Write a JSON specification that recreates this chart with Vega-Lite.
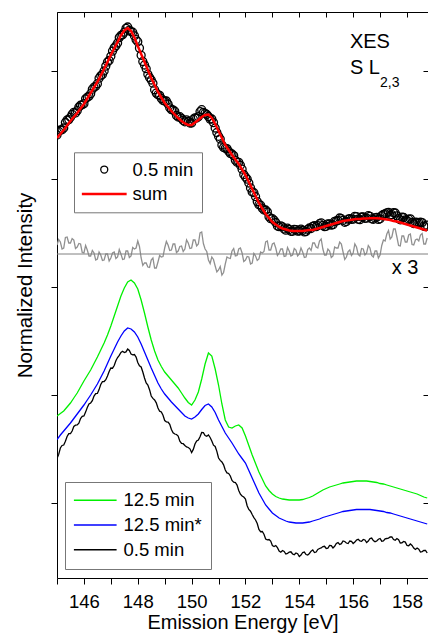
{
"$schema":"https://vega.github.io/schema/vega-lite/v6.json",
"width":371,"height":566,
"autosize":{"type":"none"},
"padding":{"left":57,"top":12,"right":0,"bottom":61},
"background":"white",
"config":{"view":{"stroke":null},"font":"Liberation Sans",
"axis":{"domainColor":"black","tickColor":"black","labelColor":"black","titleColor":"black","grid":false,"titleFontWeight":"normal","labelFont":"Liberation Sans","titleFont":"Liberation Sans"},
"legend":{"labelFont":"Liberation Sans","labelColor":"black"}},
"resolve":{"axis":{"x":"independent","y":"independent"}},
"data":{"values":[
{"x":145,"s":4.73,"d":4.76,"r":3.66,"g":1.95,"b":1.715,"k":1.525},
{"x":145.125,"s":4.77,"d":4.81,"r":3.69,"g":1.975,"b":1.76,"k":1.63},
{"x":145.25,"s":4.81,"d":4.83,"r":3.63,"g":2.0,"b":1.8,"k":1.66},
{"x":145.375,"s":4.855,"d":4.91,"r":3.74,"g":2.04,"b":1.84,"k":1.745},
{"x":145.5,"s":4.9,"d":4.937,"r":3.68,"g":2.08,"b":1.88,"k":1.775},
{"x":145.625,"s":4.94,"d":4.987,"r":3.71,"g":2.13,"b":1.925,"k":1.845},
{"x":145.75,"s":4.98,"d":5.003,"r":3.64,"g":2.18,"b":1.97,"k":1.86},
{"x":145.875,"s":5.025,"d":5.058,"r":3.67,"g":2.24,"b":2.015,"k":1.925},
{"x":146,"s":5.07,"d":5.073,"r":3.58,"g":2.3,"b":2.06,"k":1.95},
{"x":146.125,"s":5.125,"d":5.138,"r":3.61,"g":2.355,"b":2.11,"k":2.035},
{"x":146.25,"s":5.18,"d":5.173,"r":3.55,"g":2.41,"b":2.16,"k":2.08},
{"x":146.375,"s":5.235,"d":5.238,"r":3.58,"g":2.475,"b":2.215,"k":2.15},
{"x":146.5,"s":5.29,"d":5.273,"r":3.52,"g":2.54,"b":2.27,"k":2.175},
{"x":146.625,"s":5.355,"d":5.352,"r":3.56,"g":2.61,"b":2.335,"k":2.265},
{"x":146.75,"s":5.42,"d":5.4,"r":3.51,"g":2.68,"b":2.4,"k":2.295},
{"x":146.875,"s":5.49,"d":5.49,"r":3.57,"g":2.76,"b":2.475,"k":2.35},
{"x":147,"s":5.56,"d":5.547,"r":3.53,"g":2.85,"b":2.55,"k":2.43},
{"x":147.125,"s":5.625,"d":5.632,"r":3.59,"g":2.95,"b":2.62,"k":2.455},
{"x":147.25,"s":5.69,"d":5.68,"r":3.54,"g":3.05,"b":2.69,"k":2.535},
{"x":147.375,"s":5.755,"d":5.755,"r":3.57,"g":3.15,"b":2.75,"k":2.585},
{"x":147.5,"s":5.805,"d":5.788,"r":3.52,"g":3.23,"b":2.8,"k":2.585},
{"x":147.625,"s":5.83,"d":5.84,"r":3.6,"g":3.29,"b":2.83,"k":2.62},
{"x":147.75,"s":5.8,"d":5.793,"r":3.55,"g":3.31,"b":2.82,"k":2.57},
{"x":147.875,"s":5.735,"d":5.752,"r":3.62,"g":3.28,"b":2.79,"k":2.565},
{"x":148,"s":5.65,"d":5.693,"r":3.7,"g":3.22,"b":2.74,"k":2.485},
{"x":148.125,"s":5.57,"d":5.557,"r":3.53,"g":3.11,"b":2.67,"k":2.44},
{"x":148.25,"s":5.49,"d":5.46,"r":3.48,"g":2.98,"b":2.59,"k":2.33},
{"x":148.375,"s":5.41,"d":5.367,"r":3.44,"g":2.84,"b":2.51,"k":2.26},
{"x":148.5,"s":5.33,"d":5.31,"r":3.51,"g":2.71,"b":2.43,"k":2.15},
{"x":148.625,"s":5.26,"d":5.213,"r":3.43,"g":2.6,"b":2.355,"k":2.11},
{"x":148.75,"s":5.19,"d":5.163,"r":3.49,"g":2.51,"b":2.28,"k":2.03},
{"x":148.875,"s":5.135,"d":5.125,"r":3.54,"g":2.445,"b":2.22,"k":1.99},
{"x":149,"s":5.08,"d":5.1,"r":3.63,"g":2.39,"b":2.17,"k":1.905},
{"x":149.125,"s":5.04,"d":5.07,"r":3.66,"g":2.35,"b":2.13,"k":1.89},
{"x":149.25,"s":5.0,"d":5.013,"r":3.61,"g":2.31,"b":2.09,"k":1.815},
{"x":149.375,"s":4.965,"d":4.998,"r":3.67,"g":2.27,"b":2.055,"k":1.77},
{"x":149.5,"s":4.93,"d":4.94,"r":3.6,"g":2.23,"b":2.02,"k":1.75},
{"x":149.625,"s":4.9,"d":4.927,"r":3.65,"g":2.18,"b":1.985,"k":1.675},
{"x":149.75,"s":4.875,"d":4.892,"r":3.62,"g":2.13,"b":1.95,"k":1.655},
{"x":149.875,"s":4.86,"d":4.897,"r":3.68,"g":2.085,"b":1.93,"k":1.635},
{"x":150,"s":4.86,"d":4.88,"r":3.63,"g":2.06,"b":1.92,"k":1.585},
{"x":150.125,"s":4.885,"d":4.932,"r":3.71,"g":2.11,"b":1.94,"k":1.67},
{"x":150.25,"s":4.91,"d":4.943,"r":3.67,"g":2.19,"b":1.97,"k":1.71},
{"x":150.375,"s":4.94,"d":5.013,"r":3.79,"g":2.32,"b":2.015,"k":1.785},
{"x":150.5,"s":4.96,"d":4.977,"r":3.62,"g":2.47,"b":2.055,"k":1.755},
{"x":150.625,"s":4.965,"d":4.945,"r":3.51,"g":2.58,"b":2.07,"k":1.76},
{"x":150.75,"s":4.93,"d":4.92,"r":3.54,"g":2.55,"b":2.04,"k":1.7},
{"x":150.875,"s":4.87,"d":4.83,"r":3.45,"g":2.42,"b":1.985,"k":1.645},
{"x":151,"s":4.8,"d":4.747,"r":3.41,"g":2.26,"b":1.91,"k":1.53},
{"x":151.125,"s":4.73,"d":4.66,"r":3.36,"g":2.07,"b":1.845,"k":1.49},
{"x":151.25,"s":4.66,"d":4.627,"r":3.47,"g":1.91,"b":1.78,"k":1.41},
{"x":151.375,"s":4.61,"d":4.597,"r":3.53,"g":1.84,"b":1.73,"k":1.375},
{"x":151.5,"s":4.56,"d":4.57,"r":3.6,"g":1.83,"b":1.68,"k":1.305},
{"x":151.625,"s":4.515,"d":4.508,"r":3.55,"g":1.85,"b":1.625,"k":1.285},
{"x":151.75,"s":4.47,"d":4.487,"r":3.62,"g":1.86,"b":1.57,"k":1.205},
{"x":151.875,"s":4.415,"d":4.418,"r":3.58,"g":1.83,"b":1.525,"k":1.15},
{"x":152,"s":4.36,"d":4.34,"r":3.51,"g":1.75,"b":1.48,"k":1.12},
{"x":152.125,"s":4.29,"d":4.28,"r":3.54,"g":1.655,"b":1.405,"k":1.015},
{"x":152.25,"s":4.22,"d":4.19,"r":3.48,"g":1.56,"b":1.33,"k":0.965},
{"x":152.375,"s":4.15,"d":4.143,"r":3.55,"g":1.475,"b":1.255,"k":0.91},
{"x":152.5,"s":4.08,"d":4.063,"r":3.52,"g":1.39,"b":1.18,"k":0.815},
{"x":152.625,"s":4.025,"d":4.028,"r":3.58,"g":1.32,"b":1.12,"k":0.795},
{"x":152.75,"s":3.97,"d":4.01,"r":3.69,"g":1.25,"b":1.06,"k":0.72},
{"x":152.875,"s":3.93,"d":3.943,"r":3.61,"g":1.205,"b":1.02,"k":0.715},
{"x":153,"s":3.89,"d":3.923,"r":3.67,"g":1.17,"b":0.98,"k":0.655},
{"x":153.125,"s":3.865,"d":3.885,"r":3.63,"g":1.145,"b":0.955,"k":0.655},
{"x":153.25,"s":3.84,"d":3.843,"r":3.58,"g":1.13,"b":0.93,"k":0.6},
{"x":153.375,"s":3.825,"d":3.842,"r":3.62,"g":1.12,"b":0.915,"k":0.605},
{"x":153.5,"s":3.815,"d":3.808,"r":3.55,"g":1.115,"b":0.9,"k":0.57},
{"x":153.625,"s":3.805,"d":3.815,"r":3.6,"g":1.11,"b":0.89,"k":0.59},
{"x":153.75,"s":3.8,"d":3.797,"r":3.56,"g":1.11,"b":0.885,"k":0.57},
{"x":153.875,"s":3.8,"d":3.813,"r":3.61,"g":1.11,"b":0.88,"k":0.58},
{"x":154,"s":3.8,"d":3.8,"r":3.57,"g":1.11,"b":0.88,"k":0.545},
{"x":154.125,"s":3.8,"d":3.807,"r":3.59,"g":1.115,"b":0.88,"k":0.585},
{"x":154.25,"s":3.805,"d":3.795,"r":3.54,"g":1.125,"b":0.885,"k":0.565},
{"x":154.375,"s":3.81,"d":3.83,"r":3.63,"g":1.135,"b":0.89,"k":0.575},
{"x":154.5,"s":3.81,"d":3.847,"r":3.68,"g":1.15,"b":0.9,"k":0.61},
{"x":154.625,"s":3.82,"d":3.843,"r":3.64,"g":1.17,"b":0.91,"k":0.59},
{"x":154.75,"s":3.83,"d":3.873,"r":3.7,"g":1.19,"b":0.92,"k":0.625},
{"x":154.875,"s":3.84,"d":3.857,"r":3.62,"g":1.21,"b":0.935,"k":0.645},
{"x":155,"s":3.85,"d":3.847,"r":3.56,"g":1.225,"b":0.945,"k":0.625},
{"x":155.125,"s":3.86,"d":3.87,"r":3.6,"g":1.24,"b":0.955,"k":0.655},
{"x":155.25,"s":3.87,"d":3.863,"r":3.55,"g":1.25,"b":0.965,"k":0.63},
{"x":155.375,"s":3.88,"d":3.9,"r":3.63,"g":1.26,"b":0.975,"k":0.675},
{"x":155.5,"s":3.89,"d":3.93,"r":3.69,"g":1.27,"b":0.985,"k":0.665},
{"x":155.625,"s":3.9,"d":3.907,"r":3.59,"g":1.28,"b":0.995,"k":0.7},
{"x":155.75,"s":3.905,"d":3.895,"r":3.54,"g":1.285,"b":1.0,"k":0.68},
{"x":155.875,"s":3.91,"d":3.923,"r":3.61,"g":1.29,"b":1.005,"k":0.7},
{"x":156,"s":3.915,"d":3.918,"r":3.58,"g":1.295,"b":1.01,"k":0.675},
{"x":156.125,"s":3.92,"d":3.943,"r":3.64,"g":1.3,"b":1.015,"k":0.71},
{"x":156.25,"s":3.92,"d":3.913,"r":3.55,"g":1.3,"b":1.015,"k":0.7},
{"x":156.375,"s":3.925,"d":3.942,"r":3.62,"g":1.3,"b":1.015,"k":0.715},
{"x":156.5,"s":3.925,"d":3.928,"r":3.58,"g":1.3,"b":1.015,"k":0.685},
{"x":156.625,"s":3.927,"d":3.947,"r":3.63,"g":1.295,"b":1.015,"k":0.725},
{"x":156.75,"s":3.927,"d":3.917,"r":3.54,"g":1.29,"b":1.01,"k":0.705},
{"x":156.875,"s":3.927,"d":3.937,"r":3.6,"g":1.285,"b":1.005,"k":0.7},
{"x":157,"s":3.925,"d":3.922,"r":3.56,"g":1.275,"b":1.0,"k":0.725},
{"x":157.125,"s":3.92,"d":3.967,"r":3.71,"g":1.27,"b":0.995,"k":0.7},
{"x":157.25,"s":3.915,"d":3.982,"r":3.77,"g":1.26,"b":0.985,"k":0.725},
{"x":157.375,"s":3.91,"d":3.96,"r":3.72,"g":1.25,"b":0.98,"k":0.74},
{"x":157.5,"s":3.9,"d":3.983,"r":3.82,"g":1.24,"b":0.97,"k":0.715},
{"x":157.625,"s":3.895,"d":3.952,"r":3.74,"g":1.23,"b":0.96,"k":0.725},
{"x":157.75,"s":3.885,"d":3.912,"r":3.65,"g":1.22,"b":0.95,"k":0.68},
{"x":157.875,"s":3.875,"d":3.935,"r":3.75,"g":1.21,"b":0.94,"k":0.695},
{"x":158,"s":3.865,"d":3.905,"r":3.69,"g":1.2,"b":0.93,"k":0.655},
{"x":158.125,"s":3.855,"d":3.922,"r":3.77,"g":1.19,"b":0.92,"k":0.67},
{"x":158.25,"s":3.845,"d":3.875,"r":3.66,"g":1.18,"b":0.91,"k":0.63},
{"x":158.375,"s":3.835,"d":3.885,"r":3.72,"g":1.17,"b":0.9,"k":0.63},
{"x":158.5,"s":3.825,"d":3.888,"r":3.76,"g":1.155,"b":0.89,"k":0.59},
{"x":158.625,"s":3.815,"d":3.848,"r":3.67,"g":1.14,"b":0.88,"k":0.605},
{"x":158.75,"s":3.805,"d":3.858,"r":3.73,"g":1.13,"b":0.87,"k":0.58},
{"x":145.0625,"d":4.797,"r":3.715,"k":1.566},
{"x":145.1875,"d":4.812,"r":3.62,"k":1.655},
{"x":145.3125,"d":4.885,"r":3.735,"k":1.697},
{"x":145.4375,"d":4.914,"r":3.68,"k":1.774},
{"x":145.5625,"d":4.966,"r":3.725,"k":1.8},
{"x":145.6875,"d":4.981,"r":3.625,"k":1.858},
{"x":145.8125,"d":5.04,"r":3.675,"k":1.878},
{"x":145.9375,"d":5.062,"r":3.585,"k":1.946},
{"x":146.0625,"d":5.122,"r":3.655,"k":1.989},
{"x":146.1875,"d":5.147,"r":3.55,"k":2.07},
{"x":146.3125,"d":5.218,"r":3.605,"k":2.103},
{"x":146.4375,"d":5.248,"r":3.51,"k":2.173},
{"x":146.5625,"d":5.328,"r":3.59,"k":2.214},
{"x":146.6875,"d":5.366,"r":3.505,"k":2.294},
{"x":146.8125,"d":5.449,"r":3.57,"k":2.313},
{"x":146.9375,"d":5.505,"r":3.5,"k":2.395},
{"x":147.0625,"d":5.599,"r":3.58,"k":2.428},
{"x":147.1875,"d":5.652,"r":3.525,"k":2.503},
{"x":147.3125,"d":5.734,"r":3.615,"k":2.556},
{"x":147.4375,"d":5.763,"r":3.515,"k":2.597},
{"x":147.5625,"d":5.826,"r":3.6,"k":2.591},
{"x":147.6875,"d":5.809,"r":3.535,"k":2.605},
{"x":147.8125,"d":5.788,"r":3.635,"k":2.562},
{"x":147.9375,"d":5.713,"r":3.63,"k":2.539},
{"x":148.0625,"d":5.629,"r":3.645,"k":2.453},
{"x":148.1875,"d":5.495,"r":3.455,"k":2.39},
{"x":148.3125,"d":5.423,"r":3.48,"k":2.28},
{"x":148.4375,"d":5.335,"r":3.435,"k":2.213},
{"x":148.5625,"d":5.278,"r":3.53,"k":2.126},
{"x":148.6875,"d":5.179,"r":3.43,"k":2.082},
{"x":148.8125,"d":5.156,"r":3.555,"k":1.998},
{"x":148.9375,"d":5.105,"r":3.545,"k":1.958},
{"x":149.0625,"d":5.1,"r":3.695,"k":1.892},
{"x":149.1875,"d":5.032,"r":3.605,"k":1.867},
{"x":149.3125,"d":5.01,"r":3.67,"k":1.783},
{"x":149.4375,"d":4.955,"r":3.585,"k":1.765},
{"x":149.5625,"d":4.943,"r":3.645,"k":1.698},
{"x":149.6875,"d":4.906,"r":3.595,"k":1.673},
{"x":149.8125,"d":4.911,"r":3.71,"k":1.641},
{"x":149.9375,"d":4.88,"r":3.625,"k":1.622},
{"x":150.0625,"d":4.918,"r":3.71,"k":1.616},
{"x":150.1875,"d":4.93,"r":3.65,"k":1.7},
{"x":150.3125,"d":4.993,"r":3.78,"k":1.742},
{"x":150.4375,"d":4.985,"r":3.675,"k":1.784},
{"x":150.5625,"d":4.965,"r":3.595,"k":1.748},
{"x":150.6875,"d":4.919,"r":3.475,"k":1.735},
{"x":150.8125,"d":4.884,"r":3.515,"k":1.658},
{"x":150.9375,"d":4.785,"r":3.39,"k":1.596},
{"x":151.0625,"d":4.72,"r":3.445,"k":1.506},
{"x":151.1875,"d":4.635,"r":3.385,"k":1.462},
{"x":151.3125,"d":4.624,"r":3.54,"k":1.381},
{"x":151.4375,"d":4.576,"r":3.525,"k":1.35},
{"x":151.5625,"d":4.554,"r":3.625,"k":1.289},
{"x":151.6875,"d":4.488,"r":3.555,"k":1.259},
{"x":151.8125,"d":4.457,"r":3.63,"k":1.168},
{"x":151.9375,"d":4.365,"r":3.495,"k":1.14},
{"x":152.0625,"d":4.319,"r":3.545,"k":1.053},
{"x":152.1875,"d":4.231,"r":3.47,"k":0.998},
{"x":152.3125,"d":4.183,"r":3.575,"k":0.934},
{"x":152.4375,"d":4.094,"r":3.505,"k":0.875},
{"x":152.5625,"d":4.058,"r":3.59,"k":0.793},
{"x":152.6875,"d":4.011,"r":3.595,"k":0.768},
{"x":152.8125,"d":3.992,"r":3.7,"k":0.712},
{"x":152.9375,"d":3.923,"r":3.61,"k":0.699},
{"x":153.0625,"d":3.908,"r":3.68,"k":0.645},
{"x":153.1875,"d":3.85,"r":3.555,"k":0.633},
{"x":153.3125,"d":3.852,"r":3.62,"k":0.588},
{"x":153.4375,"d":3.821,"r":3.545,"k":0.596},
{"x":153.5625,"d":3.828,"r":3.635,"k":0.576},
{"x":153.6875,"d":3.797,"r":3.55,"k":0.592},
{"x":153.8125,"d":3.817,"r":3.625,"k":0.563},
{"x":153.9375,"d":3.799,"r":3.55,"k":0.573},
{"x":154.0625,"d":3.819,"r":3.63,"k":0.559},
{"x":154.1875,"d":3.791,"r":3.535,"k":0.589},
{"x":154.3125,"d":3.817,"r":3.615,"k":0.56},
{"x":154.4375,"d":3.825,"r":3.605,"k":0.598},
{"x":154.5625,"d":3.854,"r":3.68,"k":0.585},
{"x":154.6875,"d":3.854,"r":3.63,"k":0.616},
{"x":154.8125,"d":3.881,"r":3.72,"k":0.631},
{"x":154.9375,"d":3.843,"r":3.56,"k":0.647},
{"x":155.0625,"d":3.871,"r":3.62,"k":0.628},
{"x":155.1875,"d":3.859,"r":3.535,"k":0.653},
{"x":155.3125,"d":3.897,"r":3.64,"k":0.647},
{"x":155.4375,"d":3.905,"r":3.63,"k":0.684},
{"x":155.5625,"d":3.923,"r":3.67,"k":0.673},
{"x":155.6875,"d":3.887,"r":3.515,"k":0.695},
{"x":155.8125,"d":3.918,"r":3.595,"k":0.675},
{"x":155.9375,"d":3.917,"r":3.555,"k":0.696},
{"x":156.0625,"d":3.947,"r":3.67,"k":0.689},
{"x":156.1875,"d":3.919,"r":3.565,"k":0.717},
{"x":156.3125,"d":3.94,"r":3.625,"k":0.696},
{"x":156.4375,"d":3.927,"r":3.56,"k":0.71},
{"x":156.5625,"d":3.953,"r":3.655,"k":0.699},
{"x":156.6875,"d":3.922,"r":3.555,"k":0.729},
{"x":156.8125,"d":3.931,"r":3.6,"k":0.693},
{"x":156.9375,"d":3.916,"r":3.53,"k":0.718},
{"x":157.0625,"d":3.954,"r":3.655,"k":0.698},
{"x":157.1875,"d":3.971,"r":3.7,"k":0.721},
{"x":157.3125,"d":3.987,"r":3.805,"k":0.729},
{"x":157.4375,"d":3.963,"r":3.74,"k":0.74},
{"x":157.5625,"d":3.98,"r":3.82,"k":0.708},
{"x":157.6875,"d":3.924,"r":3.655,"k":0.713},
{"x":157.8125,"d":3.939,"r":3.75,"k":0.682},
{"x":157.9375,"d":3.91,"r":3.69,"k":0.689},
{"x":158.0625,"d":3.918,"r":3.76,"k":0.653},
{"x":158.1875,"d":3.885,"r":3.665,"k":0.655},
{"x":158.3125,"d":3.889,"r":3.71,"k":0.615},
{"x":158.4375,"d":3.883,"r":3.7,"k":0.618},
{"x":158.5625,"d":3.884,"r":3.775,"k":0.594},
{"x":158.6875,"d":3.844,"r":3.67,"k":0.605}
]},
"layer":[
{
"transform":[{"fold":["g","b","k"],"as":["series","val"]},{"filter":"isValid(datum.val)"}],
"mark":{"type":"line","strokeWidth":1.3,"clip":true},
"encoding":{
"x":{"field":"x","type":"quantitative","scale":{"domain":[145,158.78],"nice":false,"zero":false},
"axis":{"orient":"bottom","values":[145,146,147,148,149,150,151,152,153,154,155,156,157,158],"format":"d","labelExpr":"datum.value % 2 == 0 ? datum.label : ''","labelOverlap":false,"labelFlush":false,"tickSize":6,"labelFontSize":18.5,"labelPadding":8,"title":"Emission Energy [eV]","titleFontSize":20,"titleY":50,"titleBaseline":"alphabetic"}},
"y":{"field":"val","type":"quantitative","scale":{"domain":[0.33,5.99],"nice":false,"zero":false},
"axis":{"orient":"left","values":[1.08,2.16,3.24,4.32,5.4],"labels":false,"tickSize":6,"title":"Normalized Intensity","titleFontSize":20.5,"titleX":-25.3,"titleY":273,"titleBaseline":"alphabetic","titleAngle":-90,"titleAlign":"center"}},
"color":{"field":"series","type":"nominal","scale":{"domain":["g","b","k"],"range":["#00f000","#0000ff","#000000"]},
"legend":{"orient":"none","legendX":8,"legendY":470,"title":null,"strokeColor":"#777","padding":9,"rowPadding":5.7,"labelFontSize":18.5,"symbolType":"M-6.1,0H6.1","symbolSize":49,"symbolStrokeWidth":1.5,"symbolOffset":12,"labelOffset":19,"labelExpr":"datum.label == 'g' ? '12.5 min' : datum.label == 'b' ? '12.5 min*' : '0.5 min'"}}
}
},
{
"transform":[{"filter":"isValid(datum.r)"}],
"mark":{"type":"line","color":"#909090","strokeWidth":1.3,"clip":true},
"encoding":{
"x":{"field":"x","type":"quantitative","axis":{"orient":"top","values":[145,146,147,148,149,150,151,152,153,154,155,156,157,158],"labels":false,"tickSize":-5,"title":null}},
"y":{"field":"r","type":"quantitative","axis":{"orient":"right","values":[1.08,2.16,3.24,4.32,5.4],"labels":false,"tickSize":-5,"domain":false,"title":null}}
}
},
{
"data":{"values":[{}]},
"mark":{"type":"rule","color":"#808080","strokeWidth":1},
"encoding":{"y":{"datum":3.57,"type":"quantitative","axis":null}}
},
{
"transform":[{"filter":"isValid(datum.d)"}],
"mark":{"type":"point","filled":false,"size":64,"opacity":1,"clip":true},
"encoding":{
"x":{"field":"x","type":"quantitative","axis":null},
"y":{"field":"d","type":"quantitative","axis":null},
"stroke":{"datum":"0.5 min","type":"nominal","scale":{"domain":["0.5 min","sum"],"range":["#000000","#ff0000"]},
"legend":{"orient":"none","legendX":17,"legendY":140.3,"title":null,"strokeColor":"#777","padding":8,"rowPadding":5.4,"labelFontSize":18.5,"symbolSize":49,"symbolOffset":13,"labelOffset":19,"symbolFillColor":"transparent"}},
"shape":{"datum":"0.5 min","type":"nominal","scale":{"domain":["0.5 min","sum"],"range":["circle","M-6.4,0H6.4"]},
"legend":{"orient":"none","legendX":17,"legendY":140.3,"title":null,"strokeColor":"#777","padding":8,"rowPadding":5.4,"labelFontSize":18.5,"symbolSize":49,"symbolOffset":13,"labelOffset":19,"symbolFillColor":"transparent"}},
"strokeWidth":{"datum":"0.5 min","type":"ordinal","scale":{"type":"point","domain":["0.5 min","sum"],"range":[1.3,2.5],"padding":0},
"legend":{"orient":"none","legendX":17,"legendY":140.3,"title":null,"strokeColor":"#777","padding":8,"rowPadding":5.4,"labelFontSize":18.5,"symbolSize":49,"symbolOffset":13,"labelOffset":19,"symbolFillColor":"transparent"}}
}
},
{
"transform":[{"filter":"isValid(datum.s)"}],
"mark":{"type":"line","clip":true},
"encoding":{
"x":{"field":"x","type":"quantitative","axis":null},
"y":{"field":"s","type":"quantitative","axis":null},
"stroke":{"datum":"sum","type":"nominal",
"legend":{"orient":"none","legendX":17,"legendY":140.3,"title":null,"strokeColor":"#777","padding":8,"rowPadding":5.4,"labelFontSize":18.5,"symbolSize":49,"symbolOffset":13,"labelOffset":19,"symbolFillColor":"transparent"}},
"strokeWidth":{"datum":"sum","type":"ordinal",
"legend":{"orient":"none","legendX":17,"legendY":140.3,"title":null,"strokeColor":"#777","padding":8,"rowPadding":5.4,"labelFontSize":18.5,"symbolSize":49,"symbolOffset":13,"labelOffset":19,"symbolFillColor":"transparent"}}
}
},
{
"data":{"values":[{}]},
"mark":{"type":"text","align":"left","baseline":"alphabetic","fontSize":20,"font":"Liberation Sans","color":"black","text":"XES"},
"encoding":{"x":{"datum":155.88,"type":"quantitative","axis":null},"y":{"datum":5.63,"type":"quantitative","axis":null}}
},
{
"data":{"values":[{}]},
"mark":{"type":"text","align":"left","baseline":"alphabetic","fontSize":20,"font":"Liberation Sans","color":"black","text":"S L"},
"encoding":{"x":{"datum":155.88,"type":"quantitative","axis":null},"y":{"datum":5.37,"type":"quantitative","axis":null}}
},
{
"data":{"values":[{}]},
"mark":{"type":"text","align":"left","baseline":"alphabetic","fontSize":14,"font":"Liberation Sans","color":"black","text":"2,3"},
"encoding":{"x":{"datum":157.0,"type":"quantitative","axis":null},"y":{"datum":5.24,"type":"quantitative","axis":null}}
},
{
"data":{"values":[{}]},
"mark":{"type":"text","align":"left","baseline":"alphabetic","fontSize":20,"font":"Liberation Sans","color":"black","text":"x 3"},
"encoding":{"x":{"datum":157.43,"type":"quantitative","axis":null},"y":{"datum":3.37,"type":"quantitative","axis":null}}
}
]
}
